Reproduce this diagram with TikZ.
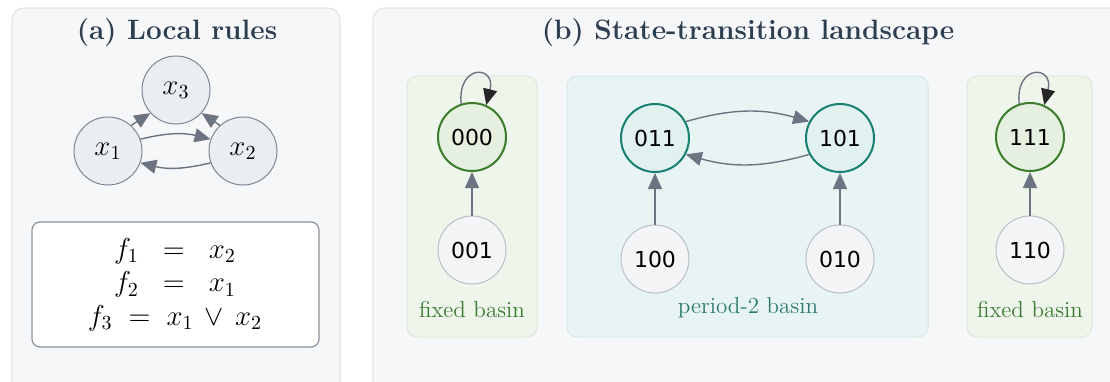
\documentclass[tikz,border=0pt]{standalone}
\usepackage{fontspec}
\newfontfamily\statefont{DejaVu Sans}
\usetikzlibrary{arrows.meta}
\definecolor{panelfill}{HTML}{F6F7F9}
\definecolor{panelline}{HTML}{E0E3E7}
\definecolor{titlecol}{HTML}{2C3E50}
\definecolor{fixfill}{HTML}{EEF6EC}
\definecolor{fixline}{HTML}{DDE8DA}
\definecolor{perfill}{HTML}{E8F4F4}
\definecolor{perline}{HTML}{D6E8E6}
\definecolor{greenline}{HTML}{3B7D2A}
\definecolor{greenfill}{HTML}{E5F0E1}
\definecolor{tealline}{HTML}{17806F}
\definecolor{tealfill}{HTML}{E0F1F0}
\definecolor{transfill}{HTML}{F4F5F7}
\definecolor{transline}{HTML}{B9BEC6}
\definecolor{arrowcol}{HTML}{6B7480}
\definecolor{varfill}{HTML}{E9EEF3}
\definecolor{varline}{HTML}{7D8793}
\definecolor{boxline}{HTML}{8A929C}
\definecolor{fixtext}{HTML}{3D7A33}
\definecolor{pertext}{HTML}{2A7A6E}
\tikzset{
  panel/.style={fill=panelfill,draw=panelline,line width=0.6pt,rounded corners=6pt},
  basinfix/.style={fill=fixfill,draw=fixline,line width=0.5pt,rounded corners=5pt},
  basinper/.style={fill=perfill,draw=perline,line width=0.5pt,rounded corners=5pt},
  title/.style={text=titlecol,font=\fontsize{14}{16}\selectfont\bfseries},
  varnode/.style={circle,fill=varfill,draw=varline,line width=0.5pt,minimum size=34pt,inner sep=0pt,font=\fontsize{14.5}{17}\selectfont},
  fixnode/.style={circle,fill=greenfill,draw=greenline,line width=1pt,minimum size=34pt,inner sep=0pt,font=\statefont\fontsize{11}{13}\selectfont},
  cycnode/.style={circle,fill=tealfill,draw=tealline,line width=1pt,minimum size=34pt,inner sep=0pt,font=\statefont\fontsize{11}{13}\selectfont},
  transnode/.style={circle,fill=transfill,draw=transline,line width=0.5pt,minimum size=34pt,inner sep=0pt,font=\statefont\fontsize{11}{13}\selectfont},
  edge/.style={draw=arrowcol,line width=0.7pt,-{Triangle[length=8pt,width=7pt]}},
  loopedge/.style={draw=arrowcol,line width=0.7pt,-{Triangle[length=8pt,width=7pt,fill=black!85,color=black!85]}},
  basinlabel/.style={font=\fontsize{11.5}{13}\selectfont},
}
\begin{document}
\begin{tikzpicture}[x=0.5pt,y=-0.5pt]
\useasboundingbox (0,0) rectangle (1110,381);
\clip (0,0) rectangle (1110,381);
% panels
\draw[panel] (12,8) rectangle (340,400);
\draw[panel] (373,8) rectangle (1130,400);
\node[title] (ta) at (177,33) {(a) Local rules};
\node[title] (tb) at (748,33) {(b) State-transition landscape};
% (a) graph
\node[varnode] (x3) at (176,90) {$x_3$};
\node[varnode] (x1) at (108,151) {$x_1$};
\node[varnode] (x2) at (243,151) {$x_2$};
\draw[edge] (x1.48) -- (x3.222);
\draw[edge] (x2.132) -- (x3.318);
\draw[edge] (x1.20) to[bend left=14] (x2.160);
\draw[edge] (x2.-160) to[bend left=14] (x1.-20);
% rules box
\node[draw=boxline,fill=white,line width=0.6pt,rounded corners=4pt,minimum width=143.5pt,minimum height=62.5pt] (rules) at (175.5,284.5) {};
\node[font=\fontsize{14}{16.75}\selectfont,align=center,inner sep=0pt] (rt) at (175,284.5) {$f_1\;\;=\;\;x_2$\\ $f_2\;\;=\;\;x_1$\\ $f_3\;=\;x_1\,\vee\,x_2$};
% (b) basins
\draw[basinfix] (407,76) rectangle (537,337);
\draw[basinper] (567,76) rectangle (928,337);
\draw[basinfix] (967,76) rectangle (1092,337);
\node[basinlabel,text=fixtext] (lb1) at (472,310) {fixed basin};
\node[basinlabel,text=pertext] (lb2) at (748,308) {period-2 basin};
\node[basinlabel,text=fixtext] (lb3) at (1030,310) {fixed basin};
% states
\node[fixnode] (s000) at (472,137) {000};
\node[transnode] (s001) at (472,250) {001};
\node[cycnode] (s011) at (655,138) {011};
\node[cycnode] (s101) at (840,138) {101};
\node[transnode] (s100) at (655,259) {100};
\node[transnode] (s010) at (840,259) {010};
\node[fixnode] (s111) at (1030,137) {111};
\node[transnode] (s110) at (1030,250) {110};
\draw[edge] (s001) -- (s000);
\draw[edge] (s100) -- (s011);
\draw[edge] (s010) -- (s101);
\draw[edge] (s110) -- (s111);
\draw[edge] (s011.28) to[bend left=16] (s101.152);
\draw[edge] (s101.-152) to[bend left=16] (s011.-28);
\draw[loopedge] (s000.108) .. controls +(-4,-40) and +(10,-40) .. (s000.66);
\draw[loopedge] (s111.108) .. controls +(-4,-40) and +(10,-40) .. (s111.66);
\end{tikzpicture}
\end{document}
